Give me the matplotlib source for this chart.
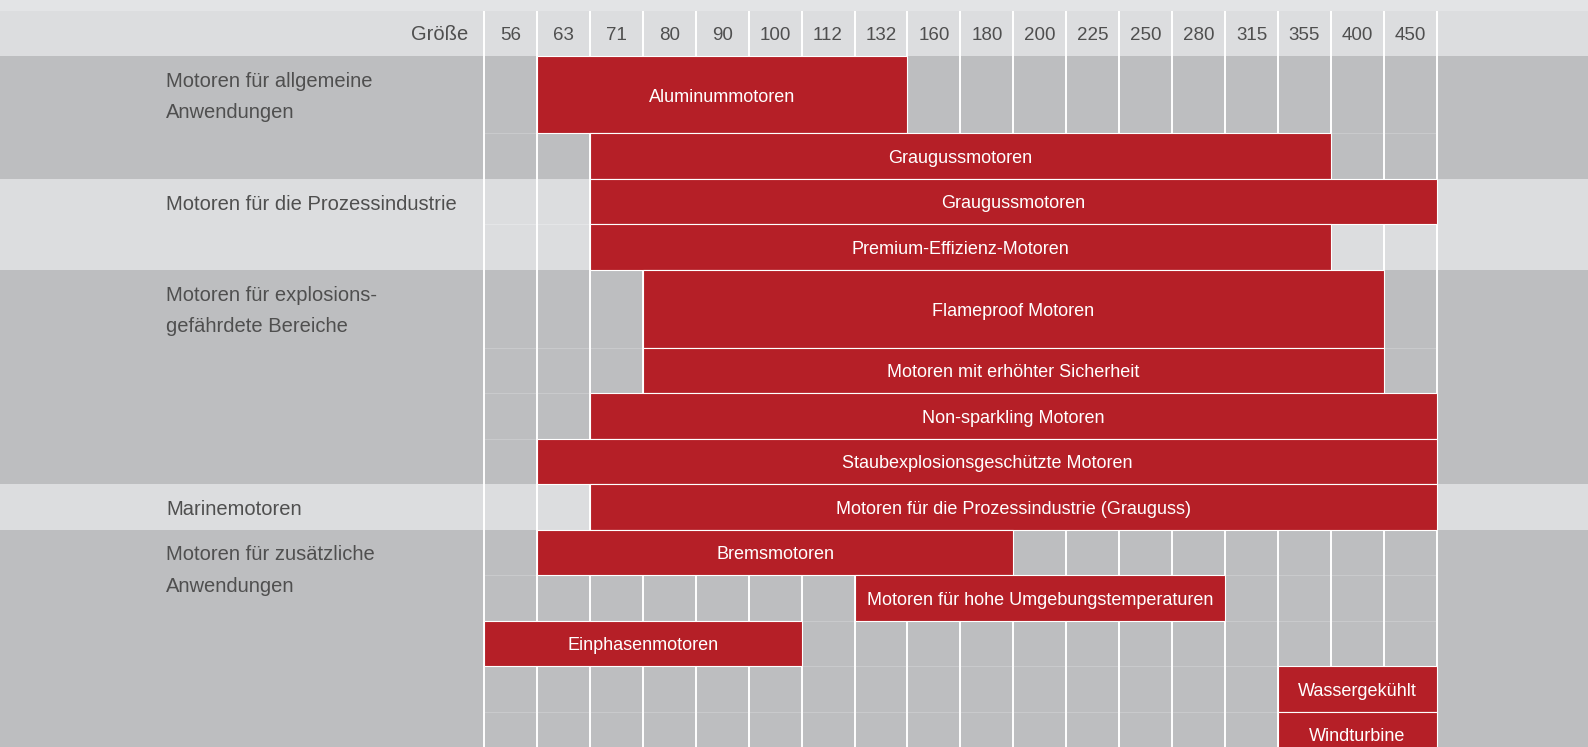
import matplotlib
matplotlib.use("Agg")
import matplotlib.pyplot as plt
from matplotlib.patches import Rectangle

plt.rcParams['font.family'] = ['Liberation Sans', 'DejaVu Sans']

# ---------------- data ----------------
sizes = ['56', '63', '71', '80', '90', '100', '112', '132', '160', '180',
         '200', '225', '250', '280', '315', '355', '400', '450']
size_title = 'Größe'

group_labels = [
    'Motoren für allgemeine\nAnwendungen',
    'Motoren für die Prozessindustrie',
    'Motoren für explosions-\ngefährdete Bereiche',
    'Marinemotoren',
    'Motoren für zusätzliche\nAnwendungen',
]

bar_names = [
    'Aluminummotoren',
    'Graugussmotoren',
    'Graugussmotoren',
    'Premium-Effizienz-Motoren',
    'Flameproof Motoren',
    'Motoren mit erhöhter Sicherheit',
    'Non-sparkling Motoren',
    'Staubexplosionsgeschützte Motoren',
    'Motoren für die Prozessindustrie (Grauguss)',
    'Bremsmotoren',
    'Motoren für hohe Umgebungstemperaturen',
    'Einphasenmotoren',
    'Wassergekühlt',
    'Windturbine',
]
bar_start = ['63', '71', '71', '71', '80', '80', '71', '63', '71',
             '63', '132', '56', '355', '355']
bar_end = ['132', '355', '450', '355', '400', '400', '450', '450', '450',
           '180', '280', '100', '450', '450']
bar_group = [0, 0, 1, 1, 2, 2, 2, 2, 3, 4, 4, 4, 4, 4]

# ---------------- layout ----------------
W, H = 1588, 747
x0_px = 484.0
col_w = 52.93
header_top, header_bot = 10.5, 56.0
row_heights = [77, 46, 45, 46, 77.5, 45.5, 45.5, 45.5, 45.5, 45.5,
               45.5, 45.5, 45.5, 45.5]

RED = '#b51f27'
DARK = '#bdbec0'
LIGHT = '#dcdddf'
TOP = '#e3e4e6'
TXT = '#4f4f4f'

fig = plt.figure(figsize=(W / 100, H / 100), dpi=100)
ax = fig.add_axes([0, 0, 1, 1])
ax.set_xlim(-x0_px / col_w, (W - x0_px) / col_w)
ax.set_ylim(H, 0)
ax.axis('off')

def px(p):
    return (p - x0_px) / col_w

xl, xr = ax.get_xlim()

# row tops
row_top = [header_bot]
for h in row_heights:
    row_top.append(row_top[-1] + h)

# backgrounds
ax.add_patch(Rectangle((xl, 0), xr - xl, header_top, color=TOP, lw=0, zorder=0))
ax.add_patch(Rectangle((xl, header_top), xr - xl, header_bot - header_top,
                       color=LIGHT, lw=0, zorder=0))

n_groups = len(group_labels)
for g in range(n_groups):
    rows = [i for i, bg in enumerate(bar_group) if bg == g]
    top = row_top[rows[0]]
    bot = row_top[rows[-1] + 1] if g < n_groups - 1 else H
    col = DARK if g % 2 == 0 else LIGHT
    ax.add_patch(Rectangle((xl, top), xr - xl, bot - top, color=col, lw=0, zorder=0))
    # faint sub-row lines inside grid
    fc = '#c9cacc' if g % 2 == 0 else '#e4e5e7'
    for r in rows[1:]:
        ax.plot([0, len(sizes)], [row_top[r], row_top[r]], color=fc, lw=0.8, zorder=1)
    # label
    for k, line in enumerate(group_labels[g].split('\n')):
        ax.text(px(166), top + 31 + 31 * k, line, ha='left', va='baseline',
                fontsize=14.5, color=TXT, zorder=5)

# vertical grid lines
for i in range(len(sizes) + 1):
    ax.plot([i, i], [header_top, H], color='white', lw=1.4, zorder=2,
            solid_capstyle='butt')

# header labels
ax.text(px(468), 40.5, size_title, ha='right', va='baseline', fontsize=14.5,
        color=TXT, zorder=5)
for i, s in enumerate(sizes):
    ax.text(i + 0.5, 40.5, s, ha='center', va='baseline', fontsize=13.5,
            color=TXT, zorder=5)

# bars
for r, (name, s, e) in enumerate(zip(bar_names, bar_start, bar_end)):
    a = sizes.index(s)
    b = sizes.index(e) + 1
    top = row_top[r]
    h = row_heights[r]
    ax.add_patch(Rectangle((a, top), b - a, h, facecolor=RED, edgecolor='white',
                           lw=0.8, zorder=3))
    ax.text((a + b) / 2, top + h / 2 + 7, name, ha='center', va='baseline',
            fontsize=13, color='white', zorder=6)

fig.savefig('out.png', dpi=100)
